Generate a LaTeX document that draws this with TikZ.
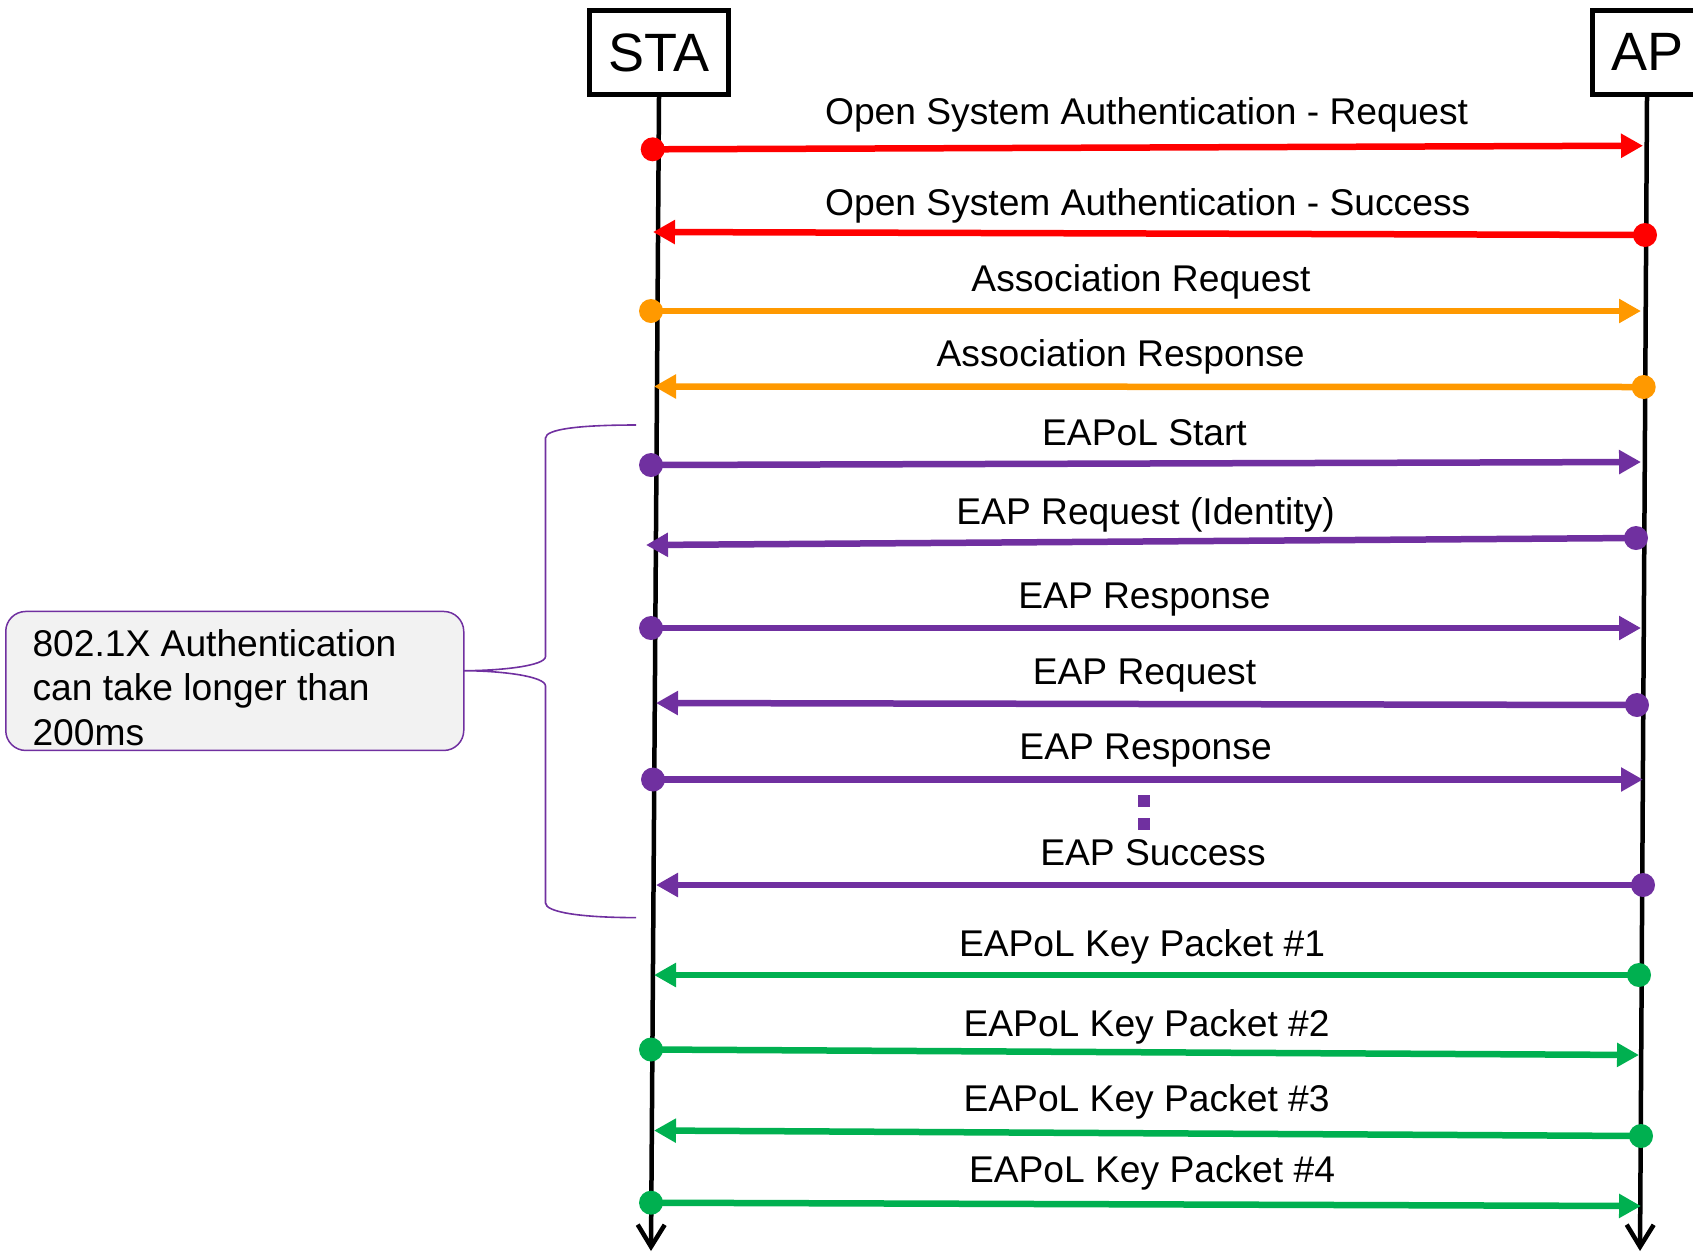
\documentclass[tikz,border=0pt]{standalone}
\usepackage{fontspec}
\setmainfont{Liberation Sans}
\usetikzlibrary{arrows.meta}

\definecolor{msgred}{HTML}{FF0000}
\definecolor{msgorange}{HTML}{FF9900}
\definecolor{msgpurple}{HTML}{7030A0}
\definecolor{msggreen}{HTML}{00B050}
\definecolor{notefill}{HTML}{F2F2F2}

\tikzset{
  entity/.style={draw=black, line width=5pt, inner sep=0pt,
    minimum height=84pt, font=\fontsize{54}{60}\selectfont},
  lifeline/.style={draw=black, line width=4.5pt,
    -{Straight Barb[length=22pt,width=27pt]}},
  msgline/.style={line width=6.5pt, -{Triangle[length=22pt,width=23pt]}},
  msglabel/.style={anchor=base, inner sep=0pt,
    font=\fontsize{37.2}{44.5}\selectfont},
  notebox/.style={draw=msgpurple, fill=notefill, line width=1.5pt,
    rounded corners=20pt, minimum width=458pt, minimum height=139pt,
    inner sep=0pt, anchor=north west},
  notetext/.style={anchor=base west, align=left, inner sep=0pt,
    font=\fontsize{37.2}{44.5}\selectfont},
  bracket/.style={draw=msgpurple, line width=1.6pt},
}

% one signalling message: name, colour, sender point, receiver point,
% label position, label text
\newcommand\sigmsg[6]{%
  \coordinate (#1s) at #3;
  \coordinate (#1e) at #4;
  \draw[msgline, #2] (#1s) -- (#1e);
  \fill[#2] (#1s) circle[radius=12];
  \node[msglabel] (#1l) at #5 {#6};
}

\begin{document}
\begin{tikzpicture}[x=1pt, y=-1pt]
  \useasboundingbox (0,0) rectangle (1693,1254);
  \clip (0,0) rectangle (1693,1254);

  % entities
  \node[entity, minimum width=139pt] (sta) at (659,52.5) {STA};
  \node[entity, minimum width=109pt] (ap) at (1647,52) {AP};

  % lifelines
  \coordinate (staend) at (651,1251);
  \coordinate (apend) at (1640,1251);
  \draw[lifeline] (sta.south) -- (staend);
  \draw[lifeline] (ap.south) -- (apend);

  % open system authentication
  \sigmsg{m1}{msgred}{(652.7,149.3)}{(1643,145.7)}{(1146.6,124.5)}{Open System Authentication - Request}
  \sigmsg{m2}{msgred}{(1645,235)}{(653,232)}{(1147.7,215)}{Open System Authentication - Success}

  % association
  \sigmsg{m3}{msgorange}{(651,311)}{(1641,311)}{(1141,291)}{Association Request}
  \sigmsg{m4}{msgorange}{(1643.7,387)}{(654,386.5)}{(1120.7,366.5)}{Association Response}

  % 802.1X / EAP exchange
  \sigmsg{m5}{msgpurple}{(651,465)}{(1641,462)}{(1144.5,445.5)}{EAPoL Start}
  \sigmsg{m6}{msgpurple}{(1636,538)}{(646,545)}{(1145.6,524)}{EAP Request (Identity)}
  \sigmsg{m7}{msgpurple}{(651,628)}{(1641,628)}{(1144.5,608.5)}{EAP Response}
  \sigmsg{m8}{msgpurple}{(1637,705)}{(656,703)}{(1144.5,684)}{EAP Request}
  \sigmsg{m9}{msgpurple}{(653,779.5)}{(1643,779.5)}{(1145.6,759.5)}{EAP Response}
  \fill[msgpurple] (1138,795) rectangle (1150,807);
  \fill[msgpurple] (1138,817.5) rectangle (1150,829.5);
  \sigmsg{m10}{msgpurple}{(1643,885)}{(656,885)}{(1153,865.5)}{EAP Success}

  % four-way handshake
  \sigmsg{m11}{msggreen}{(1639,975)}{(654,975)}{(1142,956)}{EAPoL Key Packet \#1}
  \sigmsg{m12}{msggreen}{(651,1049.5)}{(1639,1055)}{(1146.6,1036)}{EAPoL Key Packet \#2}
  \sigmsg{m13}{msggreen}{(1641,1136)}{(654,1130.5)}{(1146.6,1111.5)}{EAPoL Key Packet \#3}
  \sigmsg{m14}{msggreen}{(651,1202.7)}{(1641,1206)}{(1152,1182.5)}{EAPoL Key Packet \#4}

  % note on the duration of the 802.1X phase (base anchor = last line)
  \node[notebox] (note) at (5,610.7) {};
  \node[notetext] (notetxt) at (32.3,745) {802.1X Authentication\\can take longer than\\200ms};

  % brace spanning the EAP exchange
  \coordinate (bracetop) at (636,425);
  \coordinate (bracetip) at (463,670.7);
  \coordinate (bracebot) at (636,917.6);
  \draw[bracket] (bracetop)
    .. controls (580,425) and (545.5,429) .. (545.5,438)
    -- (545.5,656.5)
    .. controls (545.5,666) and (500,670.7) .. (bracetip)
    .. controls (500,670.7) and (545.5,676) .. (545.5,686)
    -- (545.5,903)
    .. controls (545.5,912) and (580,917.6) .. (bracebot);
\end{tikzpicture}
\end{document}
